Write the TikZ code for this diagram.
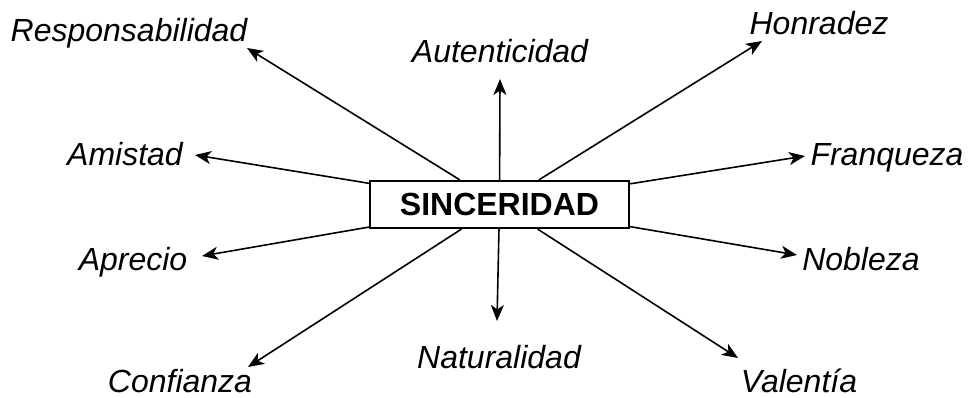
\documentclass[tikz,border=0pt]{standalone}
\usepackage{fontspec}
\setmainfont{Liberation Sans}
\usetikzlibrary{arrows.meta}
\tikzset{
  lbl/.style={font=\fontsize{32}{36}\selectfont\itshape, anchor=base, inner sep=0pt},
  arr/.style={line width=1.6pt, -{Stealth[length=16pt,width=13pt,inset=4.5pt]}},
  mainbox/.style={draw, line width=2.2pt, fill=white, minimum width=259pt, minimum height=47pt, inner sep=0pt, font=\fontsize{32}{36}\selectfont\bfseries}
}
\begin{document}
\begin{tikzpicture}[x=1pt,y=-1pt]
\useasboundingbox (0,0) rectangle (968,398);
\node[mainbox] (box) at (499.5,204.5) {SINCERIDAD};
% labels
\node[lbl] (resp) at (129,42) {Responsabilidad};
\node[lbl] (aut) at (500,63) {Autenticidad};
\node[lbl] (hon) at (819,35) {Honradez};
\node[lbl] (ami) at (125,165) {Amistad};
\node[lbl] (fra) at (887,165) {Franqueza};
\node[lbl] (apr) at (133,270) {Aprecio};
\node[lbl] (nob) at (861,270) {Nobleza};
\node[lbl] (con) at (180,392) {Confianza};
\node[lbl] (nat) at (499,368) {Naturalidad};
\node[lbl] (val) at (799,392) {Valentía};
% arrow tips
\coordinate (tResp) at (247,48);
\coordinate (tAut) at (500,79);
\coordinate (tHon) at (762,41);
\coordinate (tAmi) at (195,155);
\coordinate (tFra) at (805,156);
\coordinate (tApr) at (202,256);
\coordinate (tNob) at (797,255);
\coordinate (tCon) at (248,367);
\coordinate (tNat) at (497,321);
\coordinate (tVal) at (738,358);
\foreach \t in {tResp,tAut,tHon,tAmi,tFra,tApr,tNob,tCon,tNat,tVal}
  \draw[arr] (box) -- (\t);
\end{tikzpicture}
\end{document}
